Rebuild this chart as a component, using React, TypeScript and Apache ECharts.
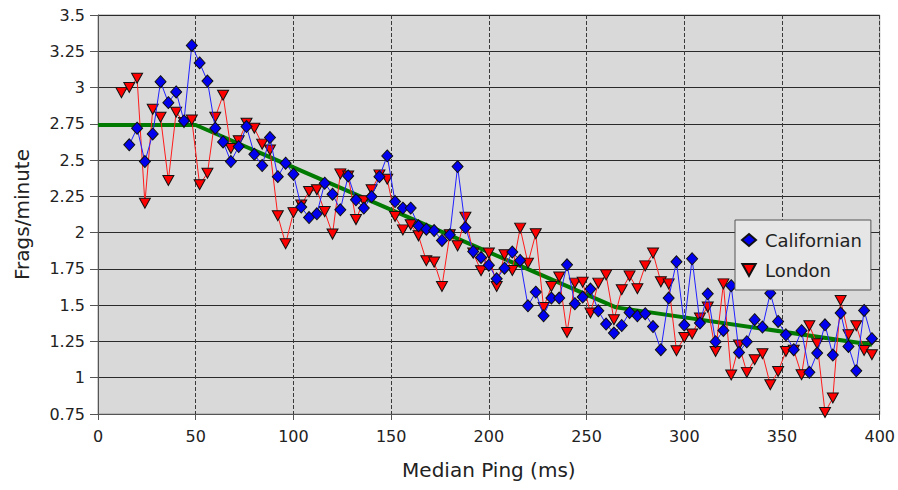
import React, { useEffect, useRef } from "react";
import * as echarts from "echarts";

const pingMs = [
  12, 16, 20, 24, 28, 32, 36, 40, 44, 48, 52, 56, 60, 64, 68, 72, 76, 80, 84, 88,
  92, 96, 100, 104, 108, 112, 116, 120, 124, 128, 132, 136, 140, 144, 148, 152, 156, 160, 164, 168,
  172, 176, 180, 184, 188, 192, 196, 200, 204, 208, 212, 216, 220, 224, 228, 232, 236, 240, 244, 248,
  252, 256, 260, 264, 268, 272, 276, 280, 284, 288, 292, 296, 300, 304, 308, 312, 316, 320, 324, 328,
  332, 336, 340, 344, 348, 352, 356, 360, 364, 368, 372, 376, 380, 384, 388, 392, 396,
];

const californianValues: (number | null)[] = [
  null, 2.605, 2.72, 2.49, 2.68, 3.04, 2.896, 2.97, 2.77, 3.29, 3.17, 3.045, 2.72, 2.625, 2.49, 2.593, 2.731, 2.54, 2.462, 2.655,
  2.386, 2.479, 2.403, 2.176, 2.104, 2.13, 2.341, 2.265, 2.157, 2.391, 2.226, 2.169, 2.249, 2.386, 2.529, 2.214, 2.169, 2.169, 2.047, 2.024,
  2.014, 1.946, 1.985, 2.455, 2.035, 1.87, 1.829, 1.776, 1.682, 1.755, 1.866, 1.808, 1.496, 1.59, 1.427, 1.549, 1.549, 1.778, 1.51, 1.556,
  1.611, 1.461, 1.37, 1.308, 1.36, 1.45, 1.427, 1.441, 1.353, 1.193, 1.549, 1.799, 1.363, 1.82, 1.377, 1.578, 1.248, 1.326, 1.634, 1.174,
  1.248, 1.4, 1.349, 1.583, 1.388, 1.296, 1.193, 1.324, 1.037, 1.17, 1.365, 1.156, 1.446, 1.216, 1.048, 1.464, 1.269,
];

const londonValues: number[] = [
  2.965, 3.0, 3.064, 2.203, 2.85, 2.795, 2.36, 2.83, 2.76, 2.777, 2.33, 2.41, 2.795, 2.947, 2.58, 2.634, 2.754, 2.72, 2.61, 2.57,
  2.116, 1.923, 2.138, 2.19, 2.283, 2.295, 2.145, 1.99, 2.405, 2.39, 2.09, 2.22, 2.295, 2.398, 2.368, 2.111, 2.019, 2.054, 1.978, 1.806,
  1.797, 1.629, 1.985, 1.909, 2.107, 1.859, 1.737, 1.859, 1.629, 1.847, 1.739, 2.031, 1.79, 1.992, 1.484, 1.629, 1.694, 1.312, 1.652, 1.659,
  1.446, 1.652, 1.709, 1.4, 1.606, 1.702, 1.613, 1.771, 1.859, 1.661, 1.647, 1.186, 1.277, 1.301, 1.411, 1.487, 1.181, 1.647, 1.019, 1.225,
  1.037, 1.124, 1.165, 0.952, 1.043, 1.181, 1.19, 1.021, 1.358, 1.234, 0.761, 0.86, 1.532, 1.296, 1.358, 1.188, 1.158,
];

const trendPing = [0, 50, 265, 396];
const trendValues = [2.742, 2.742, 1.485, 1.228];

const seriesNames = ["Californian", "London"];

const FONT = "DejaVu Sans";
const TRIANGLE_DOWN = "path://M0,0L10,0L5,9Z";

export default function App() {
  const ref = useRef<HTMLDivElement>(null);

  useEffect(() => {
    if (!ref.current) return;
    const chart = echarts.init(ref.current, null, { renderer: "svg" });

    const californianData = pingMs
      .map((p, i) => [p, californianValues[i]])
      .filter((d) => d[1] !== null);
    const londonData = pingMs.map((p, i) => [p, londonValues[i]]);
    const trendData = trendPing.map((p, i) => [p, trendValues[i]]);

    chart.setOption({
      animation: false,
      backgroundColor: "#ffffff",
      textStyle: { fontFamily: FONT },
      grid: {
        left: 98,
        top: 15,
        right: 16,
        bottom: 76,
        show: true,
        backgroundColor: "#d9d9d9",
        borderColor: "#9a9a9a",
        borderWidth: 1,
      },
      legend: {
        data: [
          { name: seriesNames[0], icon: "diamond" },
          { name: seriesNames[1], icon: TRIANGLE_DOWN },
        ],
        orient: "vertical",
        left: 735,
        top: 220,
        padding: [9, 9, 9, 6],
        itemGap: 8,
        itemWidth: 14,
        itemHeight: 12,
        backgroundColor: "#e6e6e6",
        borderColor: "#555555",
        borderWidth: 1,
        borderRadius: 0,
        textStyle: {
          fontFamily: FONT,
          fontSize: 18,
          color: "#222222",
          lineHeight: 22,
          padding: [0, 0, 0, 4],
        },
      },
      xAxis: {
        type: "value",
        min: 0,
        max: 400,
        interval: 50,
        name: "Median Ping (ms)",
        nameLocation: "middle",
        nameGap: 46,
        nameTextStyle: { fontFamily: FONT, fontSize: 20, color: "#222222" },
        axisLine: { show: true, onZero: false, lineStyle: { color: "#555555", width: 1 } },
        axisTick: { show: true, length: 6, lineStyle: { color: "#555555" } },
        axisLabel: { fontFamily: FONT, fontSize: 16, color: "#222222", margin: 14 },
        splitLine: { show: true, lineStyle: { color: "#3a3a3a", type: [4, 2], width: 1 } },
      },
      yAxis: {
        type: "value",
        min: 0.75,
        max: 3.5,
        interval: 0.25,
        name: "Frags/minute",
        nameLocation: "middle",
        nameGap: 66,
        nameTextStyle: { fontFamily: FONT, fontSize: 20, color: "#222222" },
        axisLine: { show: true, lineStyle: { color: "#555555", width: 1 } },
        axisTick: { show: true, length: 8, lineStyle: { color: "#555555" } },
        axisLabel: { fontFamily: FONT, fontSize: 16, color: "#222222", margin: 13 },
        splitLine: { show: true, lineStyle: { color: "#2a2a2a", width: 1 } },
      },
      series: [
        {
          name: "Trend",
          type: "line",
          data: trendData,
          symbol: "none",
          z: 1,
          lineStyle: { color: "#007a00", width: 4 },
          silent: true,
        },
        {
          name: seriesNames[1],
          type: "line",
          data: londonData,
          symbol: TRIANGLE_DOWN,
          symbolSize: [11, 10],
          z: 2,
          lineStyle: { color: "#ff1a1a", width: 1 },
          itemStyle: { color: "#ff0000", borderColor: "#111111", borderWidth: 1 },
        },
        {
          name: seriesNames[0],
          type: "line",
          data: californianData,
          symbol: "diamond",
          symbolSize: [11, 12],
          z: 3,
          lineStyle: { color: "#2020ff", width: 1 },
          itemStyle: { color: "#0000ee", borderColor: "#111111", borderWidth: 1 },
        },
      ],
    });

    return () => chart.dispose();
  }, []);

  return (
    <div
      ref={ref}
      style={{ position: "absolute", left: 0, top: 0, width: 898, height: 490 }}
    />
  );
}
